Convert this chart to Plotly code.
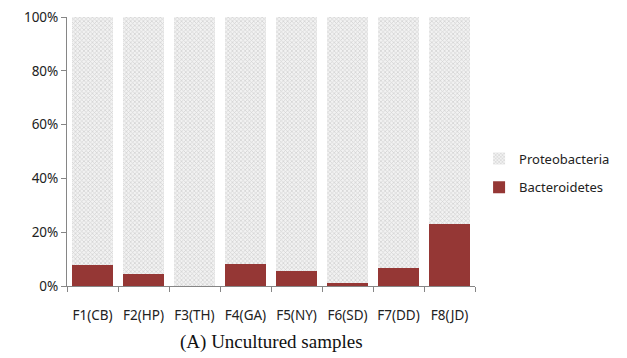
import plotly.graph_objects as go

categories = ["F1(CB)", "F2(HP)", "F3(TH)", "F4(GA)", "F5(NY)", "F6(SD)", "F7(DD)", "F8(JD)"]
bacteroidetes = [7.7, 4.4, 0.0, 8.1, 5.4, 1.0, 6.8, 22.9]
proteobacteria = [100 - v for v in bacteroidetes]

fig = go.Figure()
fig.add_trace(go.Bar(
    x=categories, y=bacteroidetes, name="Bacteroidetes", legendgroup="b", legendrank=2,
    marker=dict(color="#953735", line=dict(width=0)),
))
fig.add_trace(go.Bar(
    x=categories, y=proteobacteria, name="Proteobacteria", legendgroup="p", legendrank=1,
    marker=dict(color="white", line=dict(width=0),
                pattern=dict(shape="x", size=3, solidity=0.4, fgcolor="#b0b0b0", bgcolor="#f2f2f2")),
))

fig.update_layout(
    barmode="stack",
    bargap=0.2,
    width=619, height=350,
    margin=dict(l=59, r=152, t=9, b=72),
    plot_bgcolor="white", paper_bgcolor="white",
    font=dict(family="Noto Sans, Open Sans, sans-serif", size=13, color="#222222"),
    showlegend=True,
    legend=dict(traceorder="grouped", x=1.01, y=0.42, xanchor="left", yanchor="middle",
                font=dict(size=13), itemwidth=30, tracegroupgap=9),
    xaxis=dict(showline=True, linecolor="#868686", linewidth=1, ticks="outside",
               tickson="boundaries", ticklen=5, tickcolor="#868686", showgrid=False,
               tickangle=0, automargin=False, ticklabelstandoff=17, tickfont=dict(size=13.5)),
    yaxis=dict(range=[0, 100], showline=True, linecolor="#868686", linewidth=1,
               ticks="outside", ticklen=5, tickcolor="#868686", showgrid=False,
               automargin=False, ticklabeloverflow="allow",
               tickvals=[0, 20, 40, 60, 80, 100], ticktext=["0%", "20%", "40%", "60%", "80%", "100%"],
               tickfont=dict(size=13.5)),
    annotations=[dict(text="(A) Uncultured samples", x=0.5, y=-0.21, xref="paper", yref="paper",
                      xanchor="center", yanchor="middle", showarrow=False,
                      font=dict(family="Liberation Serif, Times New Roman, serif", size=19, color="#111111"))],
)

fig.write_html("out.html")
